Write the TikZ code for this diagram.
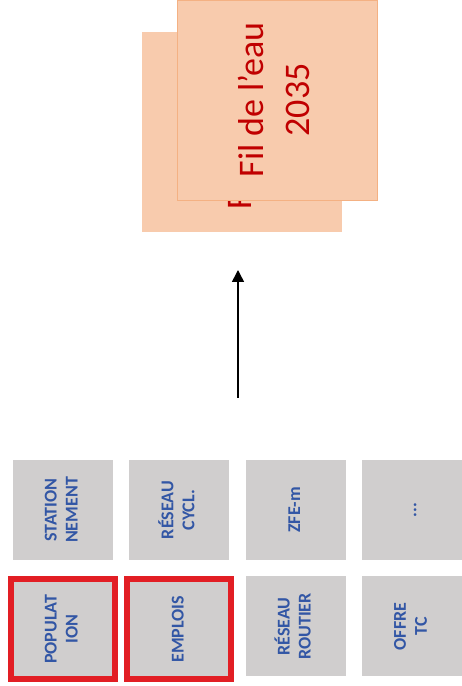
\documentclass[tikz,border=0pt]{standalone}
\usepackage{graphicx}
\usepackage{fontspec}
\setmainfont{Carlito}
\usetikzlibrary{arrows.meta,chains,scopes,positioning}
\definecolor{tuilegris}{RGB}{208,206,206}
\definecolor{tuilebleu}{RGB}{50,86,165}
\definecolor{cadrerouge}{RGB}{226,30,36}
\definecolor{scenfond}{RGB}{248,203,173}
\definecolor{scenbord}{RGB}{244,177,131}
\definecolor{scentexte}{RGB}{192,0,0}
\newcommand{\vertical}[1]{\rotatebox{90}{\begin{tabular}{@{}c@{}}#1\end{tabular}}}
\tikzset{
    tuile/.style = {
        fill = tuilegris,
        text = tuilebleu,
        minimum size = 100pt,
        inner sep = 0pt,
        font = \bfseries\fontsize{18}{21}\selectfont,
        },
    retenu/.style = {
        draw = cadrerouge,
        line width = 6pt,
        minimum width = 104pt,
        minimum height = 100pt,
        },
    scenario/.style = {
        fill = scenfond,
        text = scentexte,
        minimum size = 200pt,
        inner sep = 0pt,
        font = \fontsize{36}{46}\selectfont,
        },
    fleche/.style = {
        -{Triangle[length=12pt, width=12pt]},
        line width = 1.6pt,
        },
}

\begin{document}
\begin{tikzpicture}
            [
                x = 1pt,
                y = 1pt,
                node distance = 16pt,
            ]
            \useasboundingbox (0,0) rectangle (461,686);

            % leviers
            { [start chain = going right]
            \node [tuile, on chain] at (63,176) (stat) {\vertical{STATION\\NEMENT}};
            \node [tuile, on chain] (cycl) {\vertical{RÉSEAU\\CYCL.}};
            \node [tuile, on chain] (zfe) {\vertical{ZFE-m}};
            \node [tuile, on chain] (autre) {\vertical{...}};
            }

            \node [tuile, retenu, below=of stat] (pop) {\vertical{POPULAT\\ION}};
            \node [tuile, retenu, below=of cycl] (empl) {\vertical{EMPLOIS}};
            \node [tuile, below=of zfe] (route) {\vertical{RÉSEAU\\ROUTIER}};
            \node [tuile, below=of autre] (tc) {\vertical{OFFRE\\TC}};

            % scenarios
            \node [scenario] at (242,554) (fond) {\vertical{Fil de l’eau}};
            \node [scenario, draw=scenbord] at (277.5,586) (fil) {\vertical{Fil de l’eau\\2035}};

            \coordinate (depart) at (238,288);
            \coordinate (arrivee) at (238,416);
            \draw [fleche] (depart) -- (arrivee);
        \end{tikzpicture}
\end{document}
